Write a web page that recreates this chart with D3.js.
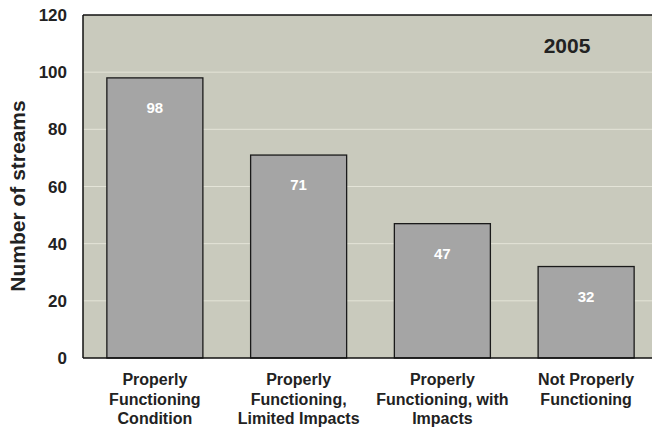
<!DOCTYPE html>
<html>
<head>
<meta charset="utf-8">
<script src="https://cdn.jsdelivr.net/npm/d3@7"></script>
<style>
body { margin: 0; background: #fff; }
text { font-family: "Liberation Sans", Arial, sans-serif; font-weight: bold; }
</style>
</head>
<body>
<svg width="652" height="428"></svg>
<script>
var categories = [
	["Properly", "Functioning", "Condition"],
	["Properly", "Functioning,", "Limited Impacts"],
	["Properly", "Functioning, with", "Impacts"],
	["Not Properly", "Functioning"]
];
var streams = [98, 71, 47, 32];
var yTicks = [0, 20, 40, 60, 80, 100, 120];
var yearLabel = "2005";

var svg = d3.select("svg");

var x = d3.scaleBand().domain(d3.range(categories.length))
	.range([83, 658]).paddingInner(0.332).paddingOuter(0.166);
var y = d3.scaleLinear().domain([0, 120]).range([358, 15]);

// plot background
svg.append("rect")
	.attr("x", 83).attr("y", y(120))
	.attr("width", 652 - 83).attr("height", y(0) - y(120))
	.style("fill", "#c9cabd");

// grid
svg.selectAll(".grid")
	.data(yTicks.filter(d => d > 0 && d < 120))
	.enter().append("line")
	.attr("x1", 83).attr("x2", 652)
	.attr("y1", d => y(d)).attr("y2", d => y(d))
	.style("stroke", "#e4e4d8").style("stroke-width", 1);

// bars
svg.selectAll(".bar")
	.data(streams)
	.enter().append("rect")
	.attr("x", (d, i) => x(i)).attr("y", d => y(d))
	.attr("width", x.bandwidth()).attr("height", d => y(0) - y(d))
	.style("fill", "#a5a5a5").style("stroke", "#1a1a1a").style("stroke-width", 1.3);

svg.selectAll(".val")
	.data(streams)
	.enter().append("text")
	.attr("x", (d, i) => x(i) + x.bandwidth() / 2)
	.attr("y", d => y(d) + 35)
	.attr("text-anchor", "middle")
	.style("fill", "#fff").style("font-size", "15px")
	.text(d => d);

// axes frame
svg.append("line").attr("x1", 83).attr("x2", 652).attr("y1", y(120)).attr("y2", y(120))
	.style("stroke", "#111").style("stroke-width", 1.5);
svg.append("line").attr("x1", 83).attr("x2", 83).attr("y1", y(120)).attr("y2", y(0))
	.style("stroke", "#111").style("stroke-width", 1.5);
svg.append("line").attr("x1", 83).attr("x2", 652).attr("y1", y(0)).attr("y2", y(0))
	.style("stroke", "#111").style("stroke-width", 1.5);

// y tick labels
svg.selectAll(".ytick")
	.data(yTicks)
	.enter().append("text")
	.attr("x", 67).attr("y", d => y(d) + 6)
	.attr("text-anchor", "end")
	.style("fill", "#222").style("font-size", "17px")
	.text(d => d);

// x labels
var xl = svg.selectAll(".xlab")
	.data(categories)
	.enter().append("text")
	.attr("text-anchor", "middle")
	.style("fill", "#222").style("font-size", "16px");
xl.selectAll("tspan")
	.data((d, i) => d.map(t => ({t: t, i: i})))
	.enter().append("tspan")
	.attr("x", d => x(d.i) + x.bandwidth() / 2)
	.attr("y", (d, j) => 385 + j * 19.5)
	.text(d => d.t);

// y title
svg.append("text")
	.attr("transform", "translate(25,196) rotate(-90)")
	.attr("text-anchor", "middle")
	.style("fill", "#222").style("font-size", "21px")
	.text("Number of streams");

svg.append("text")
	.attr("x", 567).attr("y", 53)
	.attr("text-anchor", "middle")
	.style("fill", "#222").style("font-size", "21px")
	.text(yearLabel);
</script>
</body>
</html>
